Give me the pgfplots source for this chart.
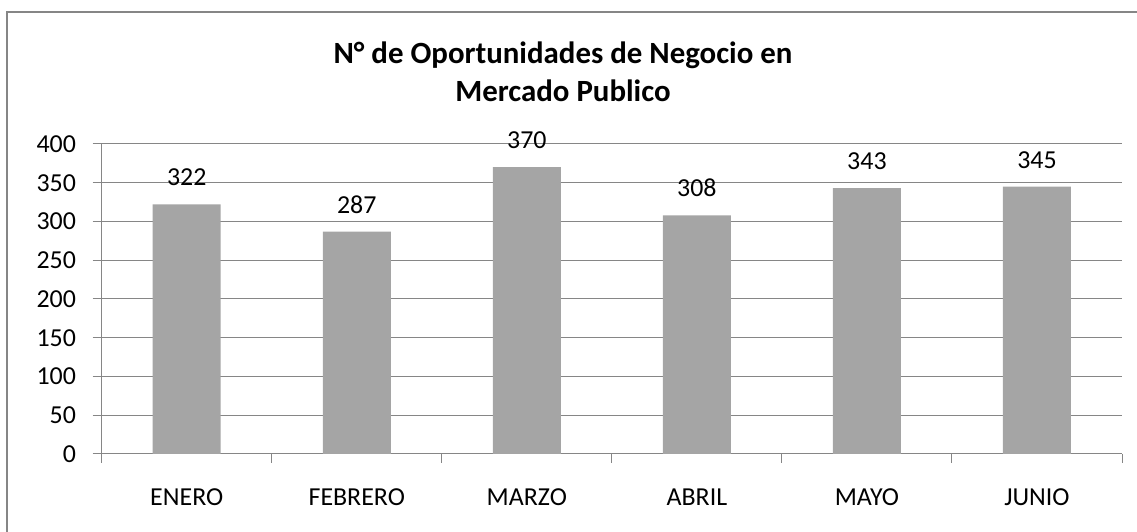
\documentclass[border=0pt]{standalone}
\usepackage{fontspec}
\setmainfont{Carlito}
\usepackage{pgfplots}
\pgfplotsset{compat=1.18}

\definecolor{barfill}{RGB}{165,165,165}
\definecolor{gridc}{RGB}{134,134,134}
\definecolor{framec}{RGB}{134,134,134}

\begin{document}
\begin{tikzpicture}[x=1bp,y=1bp]
\useasboundingbox (0,0) rectangle (1137,532);
% outer chart frame (cut off on the right and bottom)
\draw[framec, line width=2.2bp] (7,0) -- (7,520) -- (1137,520);

% title
\node[anchor=base, font=\fontsize{31}{36}\selectfont\bfseries] at (563,468.7) {N° de Oportunidades de Negocio en};
\node[anchor=base, font=\fontsize{31}{36}\selectfont\bfseries] at (563,430.3) {Mercado Publico};

\begin{axis}[
    at={(101.7bp,78bp)}, anchor=south west,
    scale only axis,
    width=1020.3bp, height=310bp,
    xmin=0.5, xmax=6.5,
    ymin=0, ymax=400,
    ytick={0,50,...,400},
    xtick={0.5,1.5,...,6.5},
    xticklabels={},
    extra x ticks={1,...,6},
    extra x tick labels={ENERO,FEBRERO,MARZO,ABRIL,MAYO,JUNIO},
    extra x tick style={major tick length=0pt, grid=none},
    axis lines=left,
    axis line style={-, gridc, line width=1bp},
    tick align=outside,
    major tick length=9bp,
    tick style={gridc, line width=1bp},
    ymajorgrids=true,
    grid style={gridc, line width=1bp},
    /pgf/number format/assume math mode=true,
    ticklabel style={font=\fontsize{26}{30}\selectfont, text=black},
    yticklabel style={anchor=east, inner sep=0pt, xshift=-16.5bp},
    xticklabel style={anchor=base, inner sep=0pt, yshift=-52bp},
    nodes near coords,
    every node near coord/.append style={font=\fontsize{26}{30}\selectfont, anchor=base, inner sep=0pt, yshift=18.5bp, text=black},
    clip=false,
]
\addplot[ybar, bar width=68bp, fill=barfill, draw=none]
    coordinates {(1,322) (2,287) (3,370) (4,308) (5,343) (6,345)};
\end{axis}
\end{tikzpicture}
\end{document}
